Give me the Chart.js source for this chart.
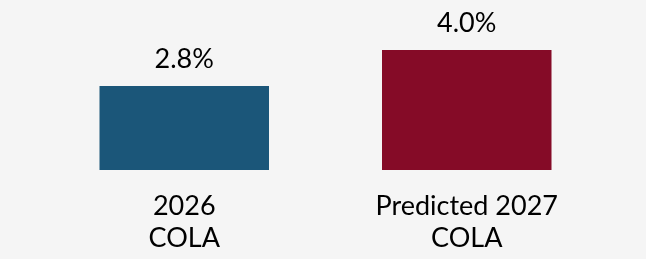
<!DOCTYPE html>
<html><head><meta charset="utf-8">
<script src="https://cdn.jsdelivr.net/npm/chart.js@4/dist/chart.umd.min.js"></script>
<style>html,body{margin:0;padding:0;background:#f5f5f5;overflow:hidden;}</style>
</head><body>
<canvas id="c" width="646" height="259"></canvas>
<script>
const categories = [["2026", "COLA"], ["Predicted 2027", "COLA"]];
const values = [2.8, 4.0];
const valueLabels = ["2.8%", "4.0%"];
const barColors = ["#1b5679", "#850b27"];

const FONT_FAMILY = "Lato, 'Open Sans', sans-serif";
const FONT_SIZE = 27;

const valueLabelPlugin = {
  id: 'valueLabels',
  afterDatasetsDraw(chart) {
    const ctx = chart.ctx;
    const meta = chart.getDatasetMeta(0);
    ctx.save();
    ctx.font = FONT_SIZE + "px " + FONT_FAMILY;
    ctx.fillStyle = "#000";
    ctx.textAlign = "center";
    ctx.textBaseline = "middle";
    meta.data.forEach((bar, i) => {
      ctx.fillText(valueLabels[i], bar.x, bar.y - 27);
    });
    ctx.restore();
  }
};

new Chart(document.getElementById('c'), {
  type: 'bar',
  data: {
    labels: categories,
    datasets: [{
      data: values,
      backgroundColor: barColors,
      borderWidth: 0,
      barPercentage: 0.6,
      categoryPercentage: 1.0
    }]
  },
  options: {
    responsive: false,
    animation: false,
    layout: { padding: { left: 43, right: 38, top: 20, bottom: 0 } },
    plugins: { legend: { display: false }, tooltip: { enabled: false } },
    scales: {
      x: {
        grid: { display: false, drawTicks: false },
        border: { display: false },
        ticks: {
          color: "#000",
          padding: 20,
          font: { family: FONT_FAMILY, size: FONT_SIZE, lineHeight: 1.2 },
          maxRotation: 0, autoSkip: false
        },
        afterFit(scale) { scale.height = 89; }
      },
      y: { display: false, min: 0, max: 5 }
    }
  },
  plugins: [valueLabelPlugin, {
    id: 'bg',
    beforeDraw(chart) {
      const ctx = chart.ctx;
      ctx.save();
      ctx.fillStyle = "#f5f5f5";
      ctx.fillRect(0, 0, chart.width, chart.height);
      ctx.restore();
    }
  }]
});
</script>
</body></html>
